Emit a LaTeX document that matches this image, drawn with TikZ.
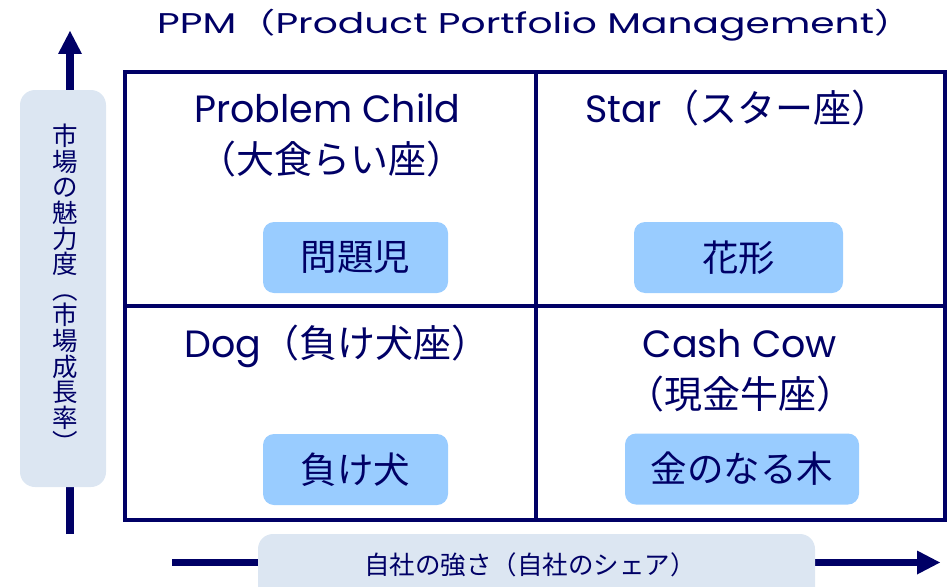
\documentclass[tikz,border=0pt]{standalone}
\usepackage{graphicx}
\usepackage{fontspec}
\setmainfont{Noto Sans CJK JP}
\newfontfamily\lat{Poppins}
\usetikzlibrary{arrows.meta}
\definecolor{navy}{HTML}{000066}
\definecolor{lbox}{HTML}{DCE6F2}
\definecolor{bbox}{HTML}{99CCFF}
\begin{document}
\begin{tikzpicture}[x=1pt,y=-1pt,
  quad/.style={draw=navy, line width=4pt, inner sep=0pt, outer sep=0pt},
  axis/.style={draw=navy, line width=7.5pt, -{Triangle[length=23pt,width=24pt,line width=0pt]}},
  big/.style={text=navy, inner sep=0pt, font=\fontsize{38}{46}\selectfont},
  ibox/.style={fill=bbox, rounded corners=11pt, text=navy, minimum height=71pt, inner sep=0pt, font=\fontsize{36.5}{40}\selectfont},
  lbl/.style={fill=lbox, rounded corners=15pt, inner sep=0pt},
  small/.style={text=navy, inner sep=0pt, font=\fontsize{25.5}{25.6}\selectfont}]
\clip (0,0) rectangle (952,586);
\useasboundingbox (0,0) rectangle (952,586);
% title
\node[text=navy, inner sep=0pt, font=\fontsize{28.5}{34}\selectfont, anchor=base west] (title) at (157,34)
  {\scalebox{1.375}[1]{{\lat PPM}（{\lat Product Portfolio Management}）}};
% quadrants
\node[quad, minimum width=411pt, minimum height=234pt] (q1) at (330.5,189) {};
\node[quad, minimum width=409pt, minimum height=234pt] (q2) at (740.5,189) {};
\node[quad, minimum width=411pt, minimum height=214pt] (q3) at (330.5,413) {};
\node[quad, minimum width=409pt, minimum height=214pt] (q4) at (740.5,413) {};
% quadrant titles
\node[big, anchor=base west] (pc1) at (194,122) {\lat Problem Child};
\node[big, anchor=base] (pc2) at (331,173) {（大食らい座）};
\node[big, anchor=base west] (st) at (585,122) {{\lat Star}（スター座）};
\node[big, anchor=base west] (dg) at (184,357) {{\lat Dog}（負け犬座）};
\node[big, anchor=base] (cc1) at (740,357) {\lat Cash Cow};
\node[big, anchor=base] (cc2) at (740,408) {（現金牛座）};
% inner boxes
\node[ibox, minimum width=185pt] (b1) at (355.5,257.5) {問題児};
\node[ibox, minimum width=209pt] (b2) at (738.5,257.5) {花形};
\node[ibox, minimum width=185pt] (b3) at (355.5,469.5) {負け犬};
\node[ibox, minimum width=234pt] (b4) at (742,469) {金のなる木};
% axes
\coordinate (vb) at (70,534);
\coordinate (vt) at (70,31);
\draw[axis] (vb) -- (vt);
\coordinate (hl) at (172,562.5);
\coordinate (hr) at (940,562.5);
\draw[axis] (hl) -- (hr);
% axis labels
\node[lbl, minimum width=86pt, minimum height=397pt] (ylab) at (63,288.5) {};
\node[small, align=center] (ytext) at (65,288.5) {市\\場\\の\\魅\\力\\度\\︵\\市\\場\\成\\長\\率\\︶};
\node[lbl, minimum width=557pt, minimum height=70pt] (xlab) at (536.5,569) {};
\node[small] (xtext) at (530,565) {自社の強さ（自社のシェア）};
\end{tikzpicture}
\end{document}
